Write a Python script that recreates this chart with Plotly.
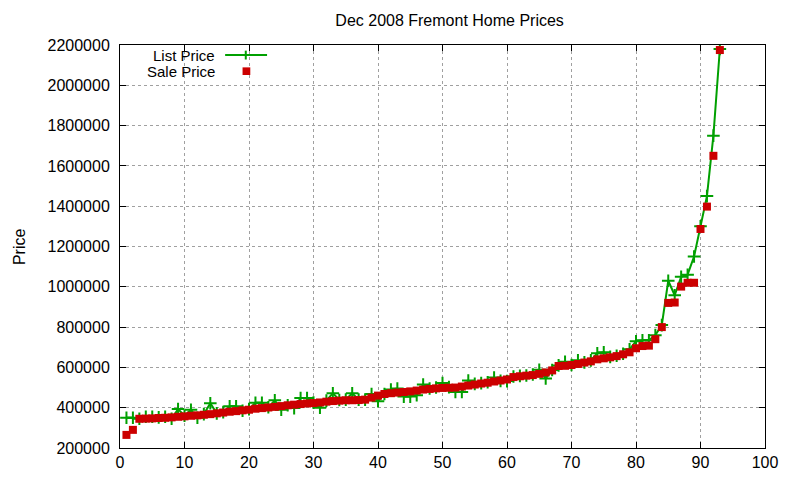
import plotly.graph_objects as go

# house index 1..93, sorted by sale price
idx = list(range(1, 94))

sale_price = [
    265000, 290000, 345000, 346000, 347000, 349000, 350000, 352000, 355000, 357000,
    360000, 362000, 365000, 368000, 372000, 376000, 380000, 383000, 387000, 390000,
    395000, 398000, 401000, 404000, 408000, 412000, 415000, 418000, 421000, 423000,
    426000, 430000, 433000, 435000, 437000, 437000, 438000, 440000, 450000, 460000,
    468000, 472000, 475000, 478000, 481000, 485000, 490000, 493000, 496000, 498000,
    499000, 500000, 505000, 510000, 515000, 520000, 524000, 530000, 535000, 540000,
    552000, 556000, 559000, 562000, 568000, 575000, 585000, 607000, 608000, 612000,
    617000, 624000, 630000, 640000, 645000, 650000, 656000, 665000, 675000, 695000,
    706000, 708000, 740000, 800000, 920000, 922000, 1001000, 1020000, 1020000, 1287000,
    1398000, 1650000, 2175000,
]

list_price = [
    350000, 350000, 345000, 355000, 355000, 352000, 355000, 345000, 393000, 360000,
    390000, 350000, 368000, 422000, 372000, 378000, 407000, 407000, 385000, 393000,
    424000, 424000, 402000, 437000, 390000, 412000, 398000, 448000, 448000, 425000,
    400000, 435000, 472000, 438000, 440000, 472000, 440000, 440000, 468000, 432000,
    468000, 490000, 495000, 455000, 455000, 462000, 515000, 495000, 500000, 522000,
    502000, 478000, 478000, 535000, 518000, 522000, 526000, 550000, 533000, 532000,
    555000, 558000, 560000, 565000, 588000, 545000, 587000, 610000, 628000, 612000,
    635000, 625000, 635000, 670000, 675000, 652000, 658000, 668000, 690000, 730000,
    735000, 735000, 760000, 810000, 1030000, 958000, 1050000, 1060000, 1150000, 1300000,
    1450000, 1750000, 2180000,
]

y_ticks = list(range(200000, 2200001, 200000))
x_ticks = list(range(0, 101, 10))

GREEN = "#00a000"
RED = "#cc0000"

fig = go.Figure()
fig.add_trace(go.Scatter(
    x=idx, y=list_price, mode="lines+markers", name="List Price",
    line=dict(color=GREEN, width=2),
    marker=dict(symbol="cross-thin", size=9, line=dict(color=GREEN, width=2)),
))
fig.add_trace(go.Scatter(
    x=idx, y=sale_price, mode="markers", name="Sale Price",
    marker=dict(symbol="square", size=8, color=RED, line=dict(width=0)),
))

axis_common = dict(
    showline=True, linecolor="black", linewidth=1, mirror="ticks",
    ticks="inside", ticklen=6, tickcolor="black",
    showgrid=True, gridcolor="#a0a0a0", griddash="dot", gridwidth=1,
    zeroline=False, tickfont=dict(size=16, color="black"),
    automargin=False,
)

fig.update_xaxes(range=[0, 100], tickvals=x_ticks, **axis_common)
fig.update_yaxes(range=[200000, 2200000], tickvals=y_ticks,
                 ticktext=[str(v) for v in y_ticks],
                 ticklabelstandoff=6, **axis_common)

fig.add_annotation(xref="paper", yref="paper", x=-0.172, y=0.5, text="Price",
                   textangle=-90, showarrow=False, font=dict(size=16, color="black"))

# gnuplot-style key: text first, then the sample
key_y1, key_y2 = 0.975, 0.935
for label, ky in (("List Price", key_y1), ("Sale Price", key_y2)):
    fig.add_annotation(xref="paper", yref="paper", x=0.151, y=ky, text=label,
                       showarrow=False, xanchor="right", yanchor="middle",
                       font=dict(size=15, color="black"))
fig.add_shape(type="line", xref="paper", yref="paper", x0=0.163, x1=0.228,
              y0=key_y1, y1=key_y1, line=dict(color=GREEN, width=2))
fig.add_shape(type="line", xref="paper", yref="paper", x0=0.195, x1=0.195,
              y0=key_y1 - 0.011, y1=key_y1 + 0.011, line=dict(color=GREEN, width=2))
fig.add_shape(type="rect", xref="paper", yref="paper", x0=0.190, x1=0.202,
              y0=key_y2 - 0.0095, y1=key_y2 + 0.0095, fillcolor=RED, line=dict(width=0))

fig.update_layout(
    width=800, height=480,
    margin=dict(l=112, r=43, t=37, b=40),
    paper_bgcolor="white", plot_bgcolor="white",
    font=dict(family="Liberation Sans, Arial, sans-serif", color="black"),
    title=dict(text="Dec 2008 Fremont Home Prices", x=0.552, xanchor="center",
               yref="container", y=0.975, yanchor="middle", font=dict(size=16)),
    showlegend=False,
)

fig.write_html("out.html")
